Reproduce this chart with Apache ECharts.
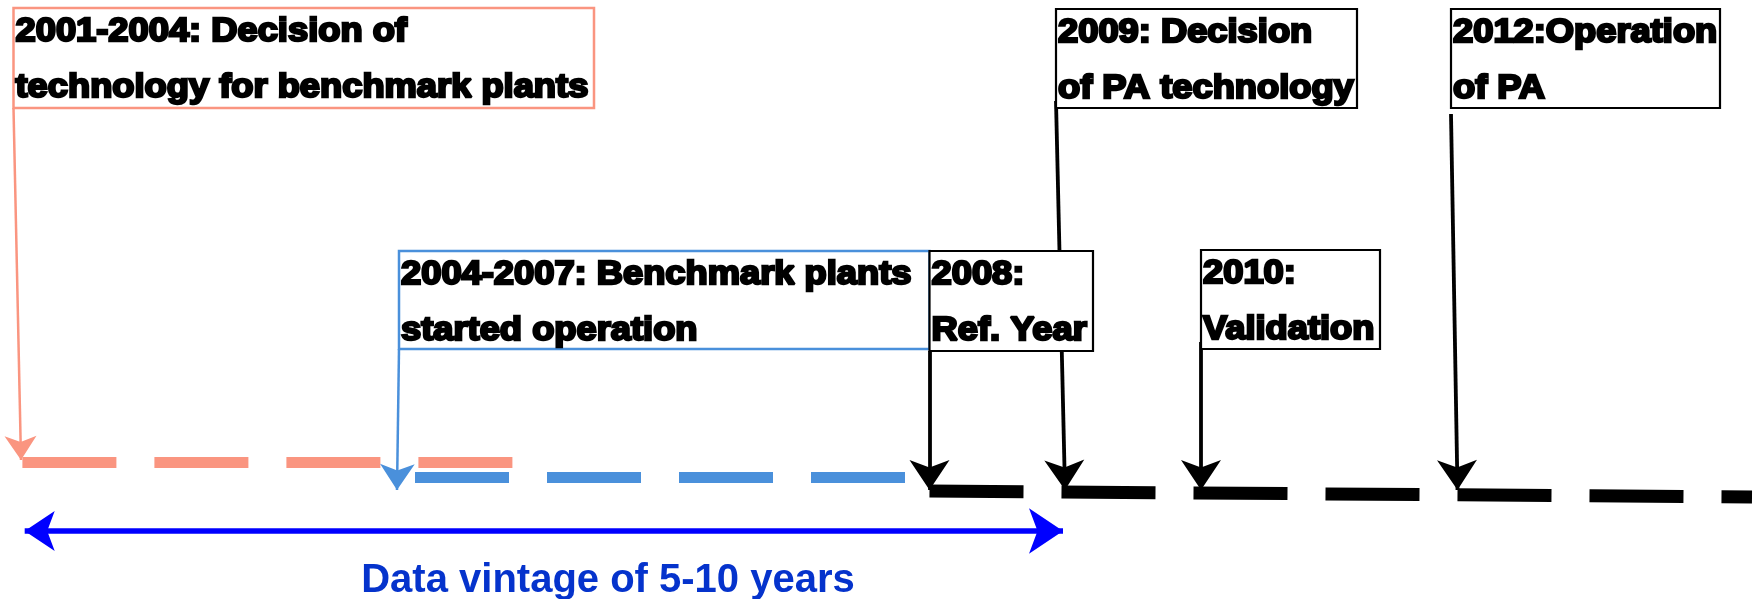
<!DOCTYPE html>
<html>
<head>
<meta charset="utf-8">
<script src="https://cdn.jsdelivr.net/npm/echarts@6/dist/echarts.min.js"></script>
<style>
html, body {margin: 0; padding: 0; background: #fff;}
#main {width: 1758px; height: 599px;}
</style>
</head>
<body>
<div id="main"></div>
<script>
// timeline boxes, in diagram units (x 0-1758, y 0-599 downwards)
var boxText = [
    ['2001-2004: Decision of', 'technology for benchmark plants'],
    ['2004-2007: Benchmark plants', 'started operation'],
    ['2008:', 'Ref. Year'],
    ['2009: Decision', 'of PA technology'],
    ['2010:', 'Validation'],
    ['2012:Operation', 'of PA']
];
var boxX0 = [13.5, 399, 929.5, 1056, 1201, 1451];
var boxY0 = [8, 251, 251, 9, 250, 9];
var boxX1 = [594, 929.5, 1093, 1357, 1380, 1720];
var boxY1 = [108, 349, 351, 108, 349, 108];

// arrows from each box down to the time line
var arrowFrom = [[13.5, 108], [399, 349], [929.5, 351], [1056, 101], [1201, 342], [1451, 114]];
var arrowTo = [[21, 460], [397, 490], [929.5, 490], [1065, 490], [1201, 490], [1457.5, 490]];

// dashed periods: decision, benchmark operation, after ref. year
var periodFrom = [[22.4, 462], [415, 477.6], [929.5, 491]];
var periodTo = [[513.5, 462], [906, 477.6], [1752, 497]];

// data vintage span
var spanFrom = [24.7, 531];
var spanTo = [1063, 531];
var spanLabel = ['Data vintage of 5-10 years'];
var spanLabelPos = [[608, 581]];

var colors = ['#FA9580', '#4A90DB', '#000000', '#000000', '#000000', '#000000'];
var boxFont = 'bold 33px "Liberation Sans", Arial, sans-serif';

var myChart = echarts.init(document.getElementById('main'));

function arrowSeries(idx, size, width) {
    return {
        type: 'lines',
        coordinateSystem: 'cartesian2d',
        z: 2,
        symbol: ['none', 'arrow'],
        symbolSize: size,
        lineStyle: {color: colors[idx[0]], width: width, opacity: 1},
        data: idx.map(function (i) {
            return {coords: [arrowFrom[i], arrowTo[i]]};
        })
    };
}

function boxLine(str, x, y) {
    return {
        type: 'text',
        x: x,
        y: y,
        scaleX: 1.1,
        style: {
            text: str, font: boxFont, fill: '#000',
            stroke: '#000', lineWidth: 2.4, verticalAlign: 'middle'
        }
    };
}

var option = {
    animation: false,
    backgroundColor: '#fff',
    grid: {left: 0, right: 0, top: 0, bottom: 0},
    xAxis: {type: 'value', min: 0, max: 1758, show: false},
    yAxis: {type: 'value', min: 0, max: 599, inverse: true, show: false},
    series: [
        {
            // dashed periods
            type: 'lines',
            coordinateSystem: 'cartesian2d',
            z: 1,
            data: periodFrom.map(function (p, i) {
                return {
                    coords: [p, periodTo[i]],
                    lineStyle: {
                        color: colors[i],
                        width: i == 2 ? 13 : 11,
                        type: [94, 38],
                        cap: 'butt',
                        opacity: 1
                    }
                };
            })
        },
        arrowSeries([0], [13, 24], 2.5),
        arrowSeries([1], [13, 26], 2.5),
        arrowSeries([2, 3, 4, 5], [18, 30], 3.8),
        {
            // data vintage double arrow
            type: 'lines',
            coordinateSystem: 'cartesian2d',
            z: 2,
            symbol: ['arrow', 'arrow'],
            symbolSize: [30, 34],
            lineStyle: {color: '#0000FF', width: 5.5, opacity: 1},
            data: [{coords: [spanFrom, spanTo]}]
        },
        {
            type: 'custom',
            coordinateSystem: 'cartesian2d',
            z: 5,
            data: boxX0.map(function (x, i) {
                return [x, boxY0[i], boxX1[i], boxY1[i]];
            }),
            renderItem: function (params, api) {
                var i = params.dataIndex;
                var p0 = api.coord([api.value(0), api.value(1)]);
                var p1 = api.coord([api.value(2), api.value(3)]);
                return {
                    type: 'group',
                    children: [
                        {
                            type: 'rect',
                            shape: {x: p0[0], y: p0[1], width: p1[0] - p0[0], height: p1[1] - p0[1]},
                            style: {fill: '#fff', stroke: colors[i], lineWidth: i < 2 ? 2.5 : 2.2}
                        },
                        boxLine(boxText[i][0], p0[0] + 2, p0[1] + 24),
                        boxLine(boxText[i][1], p0[0] + 2, p0[1] + 80)
                    ]
                };
            }
        },
        {
            type: 'custom',
            coordinateSystem: 'cartesian2d',
            z: 5,
            data: spanLabelPos,
            renderItem: function (params, api) {
                var p = api.coord([api.value(0), api.value(1)]);
                return {
                    type: 'text',
                    x: p[0],
                    y: p[1],
                    style: {
                        text: spanLabel[params.dataIndex],
                        font: 'bold 40px "Liberation Sans", Arial, sans-serif',
                        fill: '#0533CC',
                        align: 'center',
                        verticalAlign: 'middle'
                    }
                };
            }
        }
    ]
};
myChart.setOption(option);
</script>
</body>
</html>
